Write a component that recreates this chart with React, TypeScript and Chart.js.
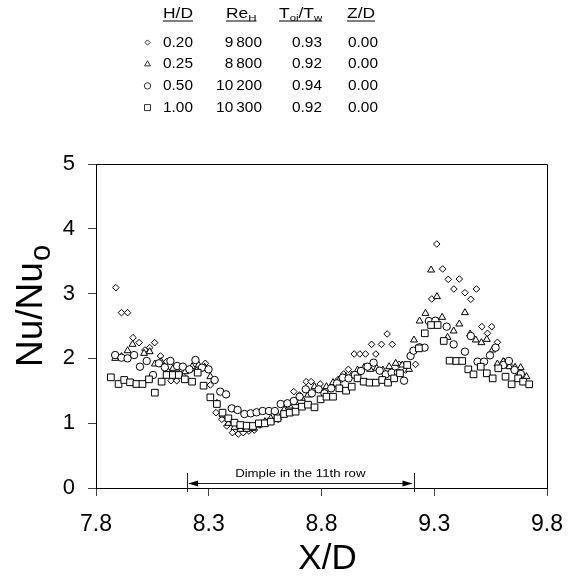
import React, { useEffect, useRef } from 'react';
import { Chart, registerables } from 'chart.js';

Chart.register(...registerables);

const FONT = '"Liberation Sans", Arial, Helvetica, sans-serif';

// Axis ticks
const xTicks = [7.8, 8.3, 8.8, 9.3, 9.8];
const yMin = 0;
const yMax = 5;

// Legend table
const hdLabels = ['0.20', '0.25', '0.50', '1.00'];
const reLabels = ['9\u2009800', '8\u2009800', '10\u2009200', '10\u2009300'];
const tRatioLabels = ['0.93', '0.92', '0.94', '0.92'];
const zdLabels = ['0.00', '0.00', '0.00', '0.00'];
const markerShapes = ['diamond', 'triangle', 'circle', 'square'];

// Dimple annotation (X/D range)
const dimpleStart = 8.204;
const dimpleEnd = 9.208;
const dimpleLabel = 'Dimple in the 11th row';

// H/D = 0.20 (diamonds)
const d020X = [7.888, 7.913, 7.940, 7.964, 7.991, 8.017, 8.038, 8.060, 8.086, 8.113, 8.133, 8.158, 8.189, 8.241, 8.285, 8.307, 8.332, 8.358, 8.380, 8.405, 8.431, 8.453, 8.478, 8.502, 8.527, 8.556, 8.583, 8.608, 8.637, 8.677, 8.703, 8.732, 8.754, 8.794, 8.823, 8.850, 8.875, 8.898, 8.919, 8.945, 8.970, 8.995, 9.022, 9.041, 9.066, 9.091, 9.114, 9.144, 9.173, 9.217, 9.289, 9.311, 9.337, 9.362, 9.387, 9.411, 9.436, 9.462, 9.487, 9.511, 9.536, 9.555, 9.580, 9.609, 9.638, 9.665, 9.694];
const d020Y = [3.092, 2.706, 2.706, 2.320, 2.243, 2.130, 2.166, 2.243, 2.037, 1.950, 1.656, 1.656, 1.718, 1.831, 1.924, 1.590, 1.163, 1.060, 0.957, 0.854, 0.833, 0.854, 0.880, 0.895, 0.972, 1.008, 1.039, 1.060, 1.152, 1.487, 1.435, 1.641, 1.641, 1.605, 1.523, 1.574, 1.677, 1.759, 1.831, 2.068, 2.068, 2.068, 2.217, 2.068, 2.217, 2.377, 2.217, 1.908, 1.821, 1.908, 2.917, 3.765, 3.380, 3.220, 3.071, 3.225, 3.014, 2.912, 3.071, 2.490, 2.387, 2.490, 2.248, 1.955, 1.878, 1.800, 1.723];

// H/D = 0.25 (triangles)
const d025X = [7.885, 7.913, 7.940, 7.962, 8.013, 8.038, 8.061, 8.089, 8.116, 8.142, 8.167, 8.196, 8.226, 8.255, 8.282, 8.307, 8.336, 8.362, 8.387, 8.414, 8.440, 8.468, 8.496, 8.522, 8.549, 8.575, 8.605, 8.634, 8.659, 8.685, 8.713, 8.740, 8.769, 8.796, 8.822, 8.851, 8.879, 8.909, 8.934, 8.960, 8.989, 9.016, 9.045, 9.072, 9.100, 9.129, 9.158, 9.188, 9.210, 9.235, 9.261, 9.286, 9.312, 9.335, 9.359, 9.386, 9.411, 9.436, 9.459, 9.484, 9.509, 9.533, 9.558, 9.580, 9.606, 9.633, 9.658, 9.683, 9.709];
const d025Y = [2.001, 2.027, 2.119, 2.217, 2.078, 2.104, 1.914, 1.950, 1.821, 1.847, 1.770, 1.795, 1.872, 1.898, 1.862, 1.718, 1.307, 1.127, 0.998, 0.936, 0.905, 0.905, 0.921, 0.972, 1.024, 1.075, 1.127, 1.204, 1.265, 1.317, 1.384, 1.435, 1.564, 1.512, 1.564, 1.626, 1.667, 1.718, 1.744, 1.821, 1.862, 1.831, 1.847, 1.821, 1.872, 1.924, 1.898, 1.831, 2.284, 2.577, 2.695, 3.364, 2.953, 2.634, 2.325, 2.423, 2.531, 2.706, 2.377, 2.284, 2.243, 2.294, 2.130, 1.914, 1.950, 1.872, 1.862, 1.857, 1.718];

// H/D = 0.50 (circles)
const d050X = [7.885, 7.913, 7.940, 7.969, 7.995, 8.025, 8.053, 8.079, 8.105, 8.130, 8.160, 8.185, 8.214, 8.241, 8.270, 8.299, 8.326, 8.351, 8.377, 8.402, 8.428, 8.458, 8.486, 8.512, 8.539, 8.567, 8.593, 8.619, 8.649, 8.677, 8.703, 8.730, 8.757, 8.787, 8.813, 8.843, 8.869, 8.894, 8.920, 8.948, 8.975, 9.004, 9.031, 9.058, 9.085, 9.111, 9.139, 9.166, 9.195, 9.208, 9.235, 9.257, 9.276, 9.305, 9.355, 9.386, 9.436, 9.462, 9.492, 9.521, 9.547, 9.572, 9.606, 9.631, 9.656, 9.684];
const d050Y = [2.052, 2.011, 2.001, 2.052, 1.872, 1.960, 1.744, 1.924, 1.862, 1.960, 1.883, 1.872, 1.831, 1.975, 1.857, 1.831, 1.667, 1.487, 1.445, 1.229, 1.204, 1.142, 1.152, 1.168, 1.188, 1.188, 1.188, 1.296, 1.307, 1.343, 1.409, 1.523, 1.461, 1.523, 1.461, 1.538, 1.615, 1.703, 1.692, 1.744, 1.806, 1.872, 1.934, 1.811, 1.754, 1.780, 1.780, 1.656, 2.037, 2.119, 2.171, 2.166, 2.577, 2.582, 2.490, 2.217, 2.104, 2.346, 1.950, 1.950, 2.047, 2.166, 1.898, 1.960, 1.821, 1.759];

// H/D = 1.00 (squares)
const d100X = [7.866, 7.900, 7.925, 7.951, 7.979, 8.006, 8.035, 8.061, 8.091, 8.113, 8.141, 8.167, 8.194, 8.226, 8.251, 8.277, 8.307, 8.336, 8.361, 8.387, 8.414, 8.440, 8.468, 8.496, 8.522, 8.549, 8.575, 8.605, 8.634, 8.659, 8.685, 8.713, 8.740, 8.769, 8.796, 8.822, 8.851, 8.879, 8.909, 8.934, 8.960, 8.987, 9.013, 9.041, 9.069, 9.095, 9.122, 9.148, 9.180, 9.232, 9.258, 9.286, 9.315, 9.342, 9.368, 9.398, 9.424, 9.451, 9.474, 9.506, 9.533, 9.559, 9.584, 9.616, 9.643, 9.672, 9.694, 9.721];
const d100Y = [1.708, 1.605, 1.667, 1.631, 1.605, 1.605, 1.677, 1.471, 1.641, 1.744, 1.744, 1.744, 1.677, 1.641, 1.780, 1.579, 1.399, 1.296, 1.163, 1.075, 1.008, 0.972, 0.962, 0.957, 0.998, 0.998, 1.024, 1.075, 1.142, 1.163, 1.178, 1.255, 1.286, 1.245, 1.368, 1.409, 1.409, 1.538, 1.502, 1.564, 1.692, 1.641, 1.626, 1.626, 1.667, 1.626, 1.692, 1.770, 1.898, 2.155, 2.387, 2.515, 2.515, 2.269, 1.965, 1.960, 1.960, 1.831, 1.754, 1.872, 1.770, 1.692, 1.847, 1.718, 1.600, 1.692, 1.641, 1.600];

const toPts = (xs: number[], ys: number[]) => xs.map((x, i) => ({ x, y: ys[i] }));

function drawSymbol(ctx: CanvasRenderingContext2D, shape: string, x: number, y: number) {
  ctx.beginPath();
  if (shape === 'diamond') {
    const r = 2.6;
    ctx.moveTo(x, y - r); ctx.lineTo(x + r, y); ctx.lineTo(x, y + r); ctx.lineTo(x - r, y); ctx.closePath();
  } else if (shape === 'triangle') {
    const r = 3.4;
    ctx.moveTo(x, y - r); ctx.lineTo(x + r * 0.866, y + r * 0.5); ctx.lineTo(x - r * 0.866, y + r * 0.5); ctx.closePath();
  } else if (shape === 'circle') {
    ctx.arc(x, y, 3.2, 0, Math.PI * 2);
  } else {
    ctx.rect(x - 3, y - 3, 6, 6);
  }
  ctx.fillStyle = '#fff';
  ctx.fill();
  ctx.strokeStyle = '#000';
  ctx.lineWidth = 0.8;
  ctx.stroke();
}

// Draws horizontally stretched text; returns drawn width
function sText(ctx: CanvasRenderingContext2D, text: string, x: number, y: number, size: number, sx: number, align: 'left' | 'right' | 'center' = 'left') {
  ctx.save();
  ctx.font = `${size}px ${FONT}`;
  const w = ctx.measureText(text).width * sx;
  let left = x;
  if (align === 'right') left = x - w;
  else if (align === 'center') left = x - w / 2;
  ctx.translate(left, y);
  ctx.scale(sx, 1);
  ctx.textAlign = 'left';
  ctx.fillText(text, 0, 0);
  ctx.restore();
  return w;
}

const overlayPlugin = {
  id: 'overlay',
  afterDatasetsDraw(chart: any) {
    const { ctx, chartArea: a } = chart;
    ctx.save();
    ctx.strokeStyle = '#000';
    ctx.lineWidth = 1;
    ctx.beginPath();
    ctx.moveTo(a.left, a.top + 0.5);
    ctx.lineTo(a.right + 0.5, a.top + 0.5);
    ctx.lineTo(a.right + 0.5, a.bottom);
    ctx.stroke();
    ctx.restore();
  },
  afterDraw(chart: any) {
    const { ctx, chartArea: a, scales } = chart;
    ctx.save();
    ctx.fillStyle = '#000';
    ctx.textBaseline = 'alphabetic';

    // Axis titles
    sText(ctx, 'X/D', (a.left + a.right) / 2 + 6, 569, 35, 1.0, 'center');

    ctx.save();
    ctx.translate(42, 367);
    ctx.rotate(-Math.PI / 2);
    ctx.textAlign = 'left';
    ctx.font = `37px ${FONT}`;
    ctx.fillText('Nu/Nu', 0, 0);
    const w = ctx.measureText('Nu/Nu').width;
    ctx.font = `29px ${FONT}`;
    ctx.fillText('o', w + 1, 8);
    ctx.restore();

    // Dimple annotation
    const xs = scales.x;
    const x1 = xs.getPixelForValue(dimpleStart);
    const x2 = xs.getPixelForValue(dimpleEnd);
    const yl = a.bottom - 5;
    ctx.strokeStyle = '#222';
    ctx.lineWidth = 1;
    ctx.beginPath();
    ctx.moveTo(Math.round(x1) + 0.5, a.bottom - 15);
    ctx.lineTo(Math.round(x1) + 0.5, a.bottom + 4);
    ctx.moveTo(Math.round(x2) + 0.5, a.bottom - 15);
    ctx.lineTo(Math.round(x2) + 0.5, a.bottom + 4);
    ctx.moveTo(x1 + 2, yl + 0.5);
    ctx.lineTo(x2 - 2, yl + 0.5);
    ctx.stroke();
    ctx.fillStyle = '#000';
    ctx.beginPath();
    ctx.moveTo(x1 + 1, yl + 0.5);
    ctx.lineTo(x1 + 11, yl - 2.5);
    ctx.lineTo(x1 + 11, yl + 3.5);
    ctx.closePath();
    ctx.fill();
    ctx.beginPath();
    ctx.moveTo(x2 - 1, yl + 0.5);
    ctx.lineTo(x2 - 11, yl - 2.5);
    ctx.lineTo(x2 - 11, yl + 3.5);
    ctx.closePath();
    ctx.fill();
    sText(ctx, dimpleLabel, (x1 + x2) / 2, a.bottom - 11, 11, 1.2, 'center');

    // Legend table
    const hb = 18;
    const HS = 14.5; // header size
    const SS = 9.5; // subscript size
    const HX = 1.2; // header stretch
    const underline = (x: number, wdt: number) => {
      ctx.fillRect(x, hb + 2.5, wdt, 1);
    };
    // H/D
    underline(163, sText(ctx, 'H/D', 163, hb, HS, HX));
    // Re_H
    let cx = 226;
    cx += sText(ctx, 'Re', cx, hb, HS, HX);
    cx += sText(ctx, 'H', cx, hb + 3, SS, HX);
    underline(226, cx - 226);
    // T_oi/T_w
    cx = 279;
    cx += sText(ctx, 'T', cx, hb, HS, HX);
    cx += sText(ctx, 'oi', cx, hb + 3, SS, HX);
    cx += sText(ctx, '/T', cx, hb, HS, HX);
    cx += sText(ctx, 'w', cx, hb + 3, SS, HX);
    underline(279, cx - 279);
    // Z/D
    underline(347, sText(ctx, 'Z/D', 347, hb, HS, HX));

    const VS = 14;
    const VX = 1.1;
    for (let i = 0; i < hdLabels.length; i++) {
      const by = 46.7 + i * 21.7;
      drawSymbol(ctx, markerShapes[i], 147.5, by - 4.2);
      ctx.fillStyle = '#000';
      sText(ctx, hdLabels[i], 163, by, VS, VX, 'left');
      sText(ctx, reLabels[i], 262, by, VS, VX, 'right');
      sText(ctx, tRatioLabels[i], 322, by, VS, VX, 'right');
      sText(ctx, zdLabels[i], 378, by, VS, VX, 'right');
    }
    ctx.restore();
  },
};

export default function App() {
  const ref = useRef<HTMLCanvasElement>(null);
  useEffect(() => {
    if (!ref.current) return;
    const common = {
      showLine: false,
      borderColor: '#000',
      backgroundColor: '#fff',
      pointBorderColor: '#000',
      pointBackgroundColor: '#fff',
      pointBorderWidth: 1,
    };
    const chart = new Chart(ref.current, {
      type: 'scatter',
      data: {
        datasets: [
          { ...common, label: 'H/D 0.20', data: toPts(d020X, d020Y), pointStyle: 'rectRot', pointRadius: 3.3, order: 4 },
          { ...common, label: 'H/D 0.25', data: toPts(d025X, d025Y), pointStyle: 'triangle', pointRadius: 4, order: 3 },
          { ...common, label: 'H/D 0.50', data: toPts(d050X, d050Y), pointStyle: 'circle', pointRadius: 3.7, order: 2 },
          { ...common, label: 'H/D 1.00', data: toPts(d100X, d100Y), pointStyle: 'rect', pointRadius: 4.7, order: 1 },
        ],
      },
      options: {
        responsive: false,
        maintainAspectRatio: false,
        devicePixelRatio: 1,
        animation: false,
        events: [],
        layout: { padding: { top: 164, right: 28, left: 0, bottom: 0 } },
        plugins: { legend: { display: false }, tooltip: { enabled: false }, title: { display: false } },
        scales: {
          x: {
            type: 'linear',
            min: xTicks[0],
            max: xTicks[xTicks.length - 1],
            afterBuildTicks: (s: any) => { s.ticks = xTicks.map((v) => ({ value: v })); },
            afterFit: (s: any) => { s.height = 89; },
            ticks: {
              font: { size: 23, family: FONT },
              color: '#000',
              padding: 15,
              maxRotation: 0,
              autoSkip: false,
              callback: (v: any) => Number(v).toFixed(1),
            },
            grid: { drawOnChartArea: false, tickLength: 8, color: '#444', lineWidth: 1 },
            border: { display: true, color: '#000', width: 1 },
          },
          y: {
            type: 'linear',
            min: yMin,
            max: yMax,
            afterFit: (s: any) => { s.width = 96; },
            ticks: {
              stepSize: 1,
              font: { size: 22, family: FONT },
              color: '#000',
              padding: 13,
            },
            grid: { drawOnChartArea: false, tickLength: 8, color: '#444', lineWidth: 1 },
            border: { display: true, color: '#000', width: 1 },
          },
        },
      },
      plugins: [overlayPlugin],
    } as any);
    return () => chart.destroy();
  }, []);
  return (
    <div style={{ position: 'absolute', left: 0, top: 0, width: 578, height: 577, background: '#fff' }}>
      <canvas ref={ref} width={578} height={577} style={{ display: 'block', width: 578, height: 577 }} />
    </div>
  );
}
